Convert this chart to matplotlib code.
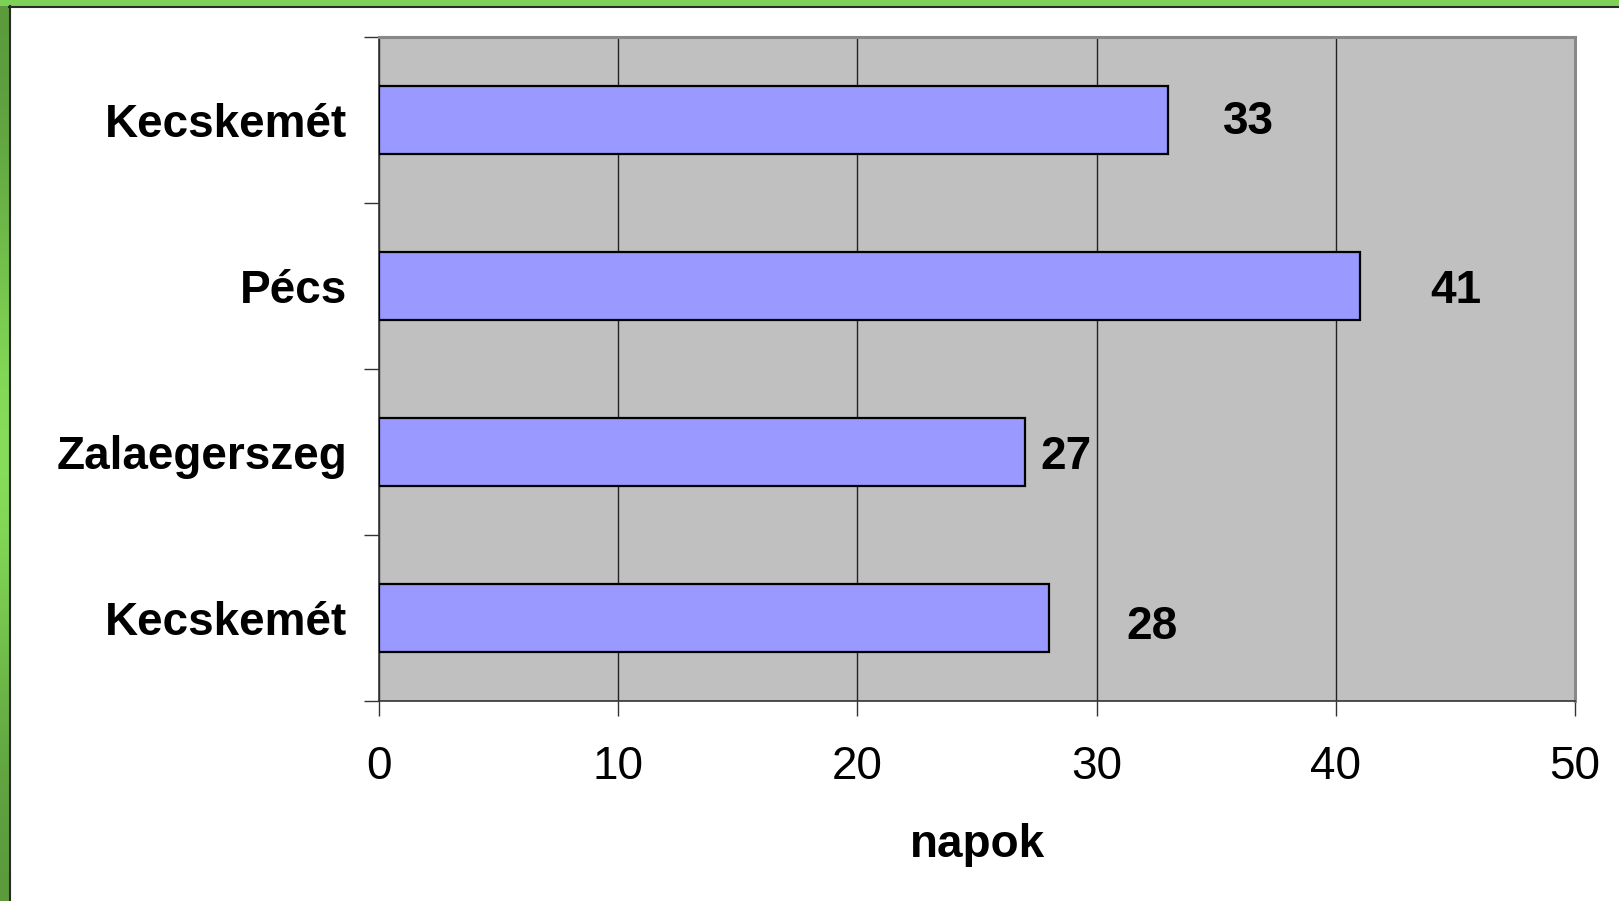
import numpy as np
import matplotlib
matplotlib.use("Agg")
import matplotlib.pyplot as plt
from matplotlib.patches import Rectangle

plt.rcParams['font.family'] = ['Liberation Sans', 'DejaVu Sans']

# adatok (alulról felfelé)
varosok = ['Kecskemét', 'Zalaegerszeg', 'Pécs', 'Kecskemét']
napok = [28, 27, 41, 33]
# feliratok eltolása (x, y) adategységben
felirat_dx = [4.3, 1.7, 4.0, 3.35]
felirat_dy = [-0.055, -0.03, -0.03, -0.015]
x_ticks = [0, 10, 20, 30, 40, 50]

fig = plt.figure(figsize=(16.19, 9.01), dpi=100)
fig.patch.set_facecolor('white')

# zöld keret fent és bal oldalon
fig.patches.append(Rectangle((0, 1 - 6 / 901), 1, 6 / 901, transform=fig.transFigure,
                             facecolor='#7ED157', edgecolor='none', zorder=0))
gax = fig.add_axes([0, 0, 9 / 1619, 1 - 6 / 901])
grad = np.array([[0.0], [0.5], [1.0], [0.5], [0.0]])
gax.imshow(grad, aspect='auto', cmap=matplotlib.colors.LinearSegmentedColormap.from_list(
    'g', ['#5A9A3C', '#8FEA5E']), extent=[0, 1, 0, 1], interpolation='bicubic')
gax.axis('off')
fig.add_artist(plt.Line2D([9 / 1619, 1], [1 - 6.5 / 901] * 2, transform=fig.transFigure,
                          color='#2a2a2a', lw=1.5))
fig.add_artist(plt.Line2D([9.5 / 1619] * 2, [0, 1 - 6 / 901], transform=fig.transFigure,
                          color='#2a2a2a', lw=1.5))

ax = fig.add_axes([379 / 1619, 1 - 701 / 901, (1575 - 379) / 1619, (701 - 37) / 901])
ax.set_facecolor('#C0C0C0')
y = np.arange(len(varosok))
ax.barh(y, napok, height=0.405, color='#9999FF', edgecolor='black', linewidth=1.6, zorder=3)

for i, v in enumerate(napok):
    ax.text(v + felirat_dx[i], i + felirat_dy[i], str(v), ha='center', va='center',
            fontsize=33, fontweight='bold', zorder=4)

ax.set_xlim(0, 50)
ax.set_ylim(-0.5, 3.5)
ax.set_xticks(x_ticks)
ax.set_xticklabels([str(t) for t in x_ticks], fontsize=33)
ax.set_yticks(y)
ax.set_yticklabels(varosok, fontsize=33, fontweight='bold')
ax.tick_params(axis='y', length=0, pad=23)
ax.set_yticks(np.arange(-0.5, 4, 1), minor=True)
ax.tick_params(axis='y', which='minor', length=11, width=1, color='#333333')
ax.tick_params(axis='x', length=11, width=1, color='#333333', pad=21)
ax.grid(axis='x', color='#222222', linewidth=1, zorder=1)

for s in ['top', 'right']:
    ax.spines[s].set_color('#888888')
    ax.spines[s].set_linewidth(2.2)
for s in ['bottom', 'left']:
    ax.spines[s].set_color('#333333')
    ax.spines[s].set_linewidth(1.2)

ax.set_xlabel('napok', fontsize=33, fontweight='bold', labelpad=24)

fig.savefig('out.png', dpi=100)
